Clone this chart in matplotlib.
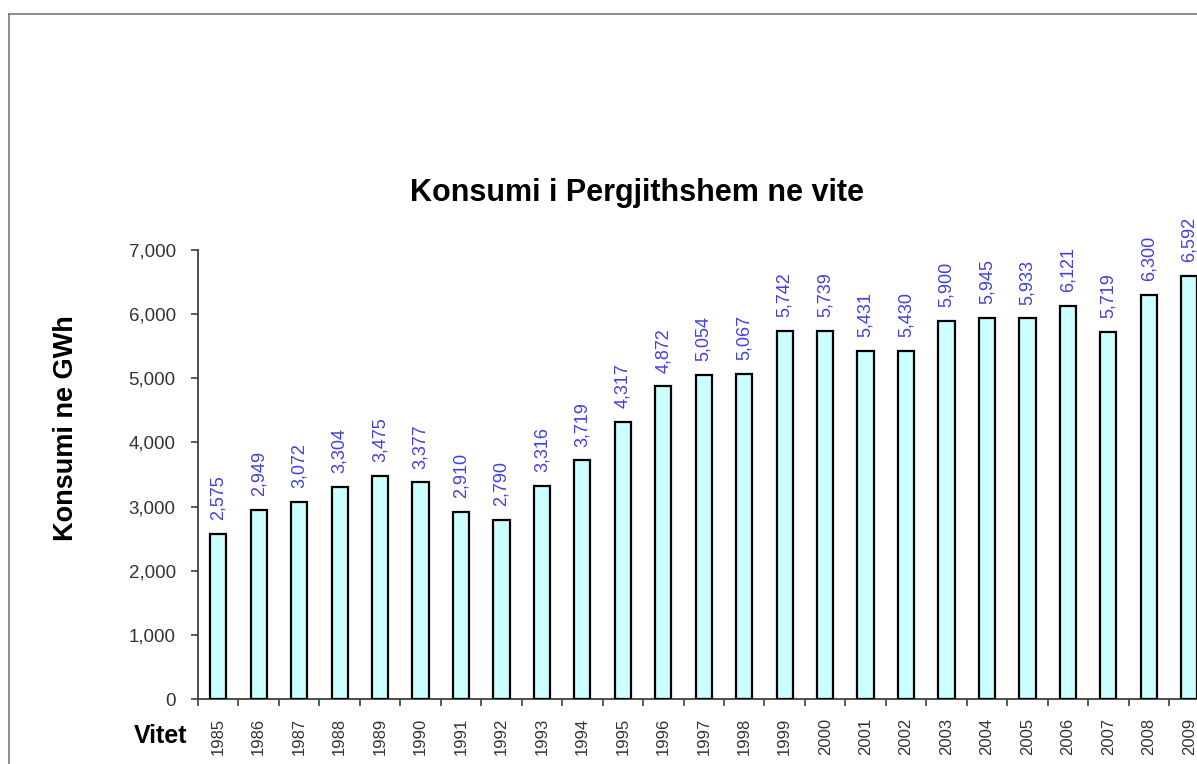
import matplotlib
matplotlib.use("Agg")
import matplotlib.pyplot as plt
from matplotlib.lines import Line2D
import numpy as np

years = ["1985", "1986", "1987", "1988", "1989", "1990", "1991", "1992", "1993",
         "1994", "1995", "1996", "1997", "1998", "1999", "2000", "2001", "2002",
         "2003", "2004", "2005", "2006", "2007", "2008", "2009"]
consumption = [2575, 2949, 3072, 3304, 3475, 3377, 2910, 2790, 3316,
               3719, 4317, 4872, 5054, 5067, 5742, 5739, 5431, 5430,
               5900, 5945, 5933, 6121, 5719, 6300, 6592]
y_ticks = [0, 1000, 2000, 3000, 4000, 5000, 6000, 7000]

plt.rcParams["font.family"] = ["Liberation Sans", "DejaVu Sans"]

W, H = 1197, 764
fig = plt.figure(figsize=(W / 100, H / 100), dpi=100)

# outer chart frame (cut off on the right and bottom)
fig.add_artist(Line2D([9 / W, 9 / W], [0, 1 - 14 / H], color="#7a7a7a", lw=1.2))
fig.add_artist(Line2D([9 / W, 1], [1 - 14 / H, 1 - 14 / H], color="#7a7a7a", lw=1.2))

# plot area runs past the right edge of the picture
ax = fig.add_axes([198 / W, 65 / H, 1011.5 / W, 449 / H])

x = np.arange(len(years))
bars = ax.bar(x, consumption, width=0.4, color="#CCFFFF", edgecolor="black",
              linewidth=1.6, zorder=3)

for bar, v in zip(bars, consumption):
    ax.annotate(f"{v:,}", xy=(bar.get_x() + bar.get_width() / 2, v),
                xytext=(0, 10), textcoords="offset points",
                ha="center", va="bottom", rotation=90,
                fontsize=13, color="#4040dd", annotation_clip=False)

ax.set_xlim(-0.5, len(years) - 0.5)
ax.set_ylim(0, 7000)
ax.set_yticks(y_ticks)
ax.set_yticklabels([f"{t:,}" for t in y_ticks])

ax.set_xticks(x)
ax.set_xticklabels(years, rotation=90)
ax.set_xticks(np.arange(-0.5, len(years)), minor=True)
ax.tick_params(axis="x", which="major", length=0, pad=13.5,
               labelsize=12, labelcolor="#333333")
ax.tick_params(axis="x", which="minor", length=5, width=1.2,
               direction="out", color="#404040")
ax.tick_params(axis="y", length=5, width=1.2, direction="out", pad=11,
               labelsize=13.5, labelcolor="#333333", color="#404040")

for side in ["top", "right"]:
    ax.spines[side].set_visible(False)
for side in ["left", "bottom"]:
    ax.spines[side].set_color("#404040")
    ax.spines[side].set_linewidth(1.3)

fig.text(637 / W, 1 - 193 / H, "Konsumi i Pergjithshem ne vite",
         ha="center", va="center", fontsize=22, fontweight="bold")
fig.text(66 / W, 1 - 428 / H, "Konsumi ne GWh", rotation=90,
         ha="center", va="center", fontsize=19.5, fontweight="bold")
fig.text(161 / W, 1 - 736 / H, "Vitet",
         ha="center", va="center", fontsize=18, fontweight="bold")

fig.savefig("out.png", dpi=100)
